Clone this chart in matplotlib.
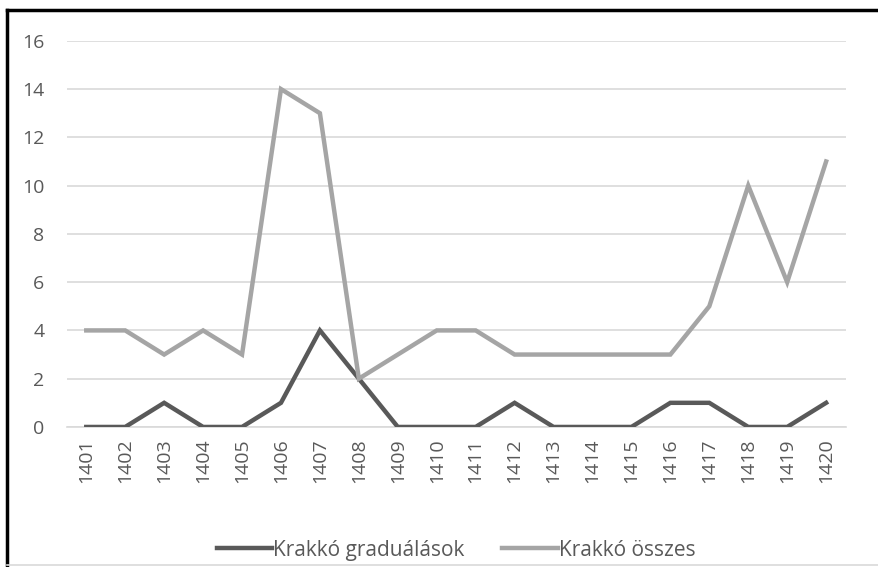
import numpy as np
import matplotlib.pyplot as plt
from matplotlib.lines import Line2D

plt.rcParams['font.family'] = ['Open Sans', 'DejaVu Sans']

years = [str(y) for y in range(1401, 1421)]
graduals = [0, 0, 1, 0, 0, 1, 4, 2, 0, 0, 0, 1, 0, 0, 0, 1, 1, 0, 0, 1]
osszes = [4, 4, 3, 4, 3, 14, 13, 2, 3, 4, 4, 3, 3, 3, 3, 3, 5, 10, 6, 11]

fig = plt.figure(figsize=(8.79, 5.67), dpi=100)
ax = fig.add_axes([0.076, 0.247, 0.886, 0.681])

x = np.arange(len(years))
ax.plot(x, graduals, color='#595959', lw=3.2, label='Krakkó graduálások', solid_joinstyle='miter', zorder=3)
ax.plot(x, osszes, color='#A5A5A5', lw=3.2, label='Krakkó összes', solid_joinstyle='miter', zorder=3)

ax.set_xlim(-0.5, len(years) - 0.5)
ax.set_ylim(0, 16)
ax.set_yticks(range(0, 17, 2))
ax.set_xticks(x)
ax.set_xticklabels(years, rotation=90)
ax.grid(axis='y', color='#D9D9D9', lw=1.2)
ax.set_axisbelow(True)
for s in ax.spines.values():
    s.set_visible(False)
ax.spines['bottom'].set_visible(True)
ax.spines['bottom'].set_color('#D9D9D9')
ax.spines['bottom'].set_linewidth(1.2)
ax.tick_params(axis='y', length=0, labelsize=14, colors='#595959', pad=16)
ax.tick_params(axis='x', length=0, labelsize=14, colors='#595959', pad=8)

ax.legend(loc='upper center', bbox_to_anchor=(0.5, -0.243), ncol=2, frameon=False,
          fontsize=15, labelcolor='#595959', handlelength=2.65, handletextpad=0.05,
          columnspacing=1.8)

# outer border
fig.add_artist(Line2D([0.008, 1.0], [0.983, 0.983], color='black', lw=2.5, transform=fig.transFigure))
fig.add_artist(Line2D([0.008, 0.008], [0.0, 0.983], color='black', lw=2.5, transform=fig.transFigure))
fig.add_artist(Line2D([0.008, 1.0], [0.004, 0.004], color='#D9D9D9', lw=1.2, transform=fig.transFigure))

fig.savefig('out.png', dpi=100)
